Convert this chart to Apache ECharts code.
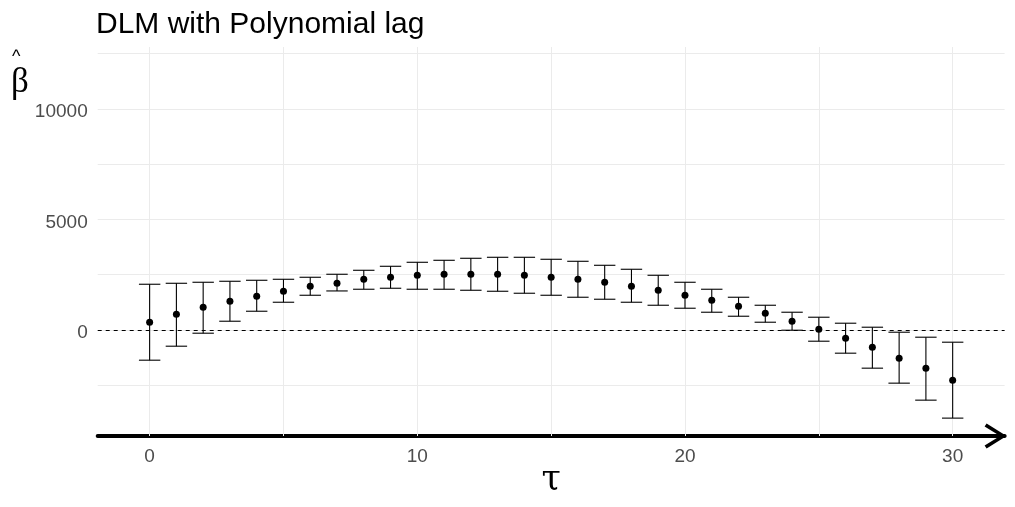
<!DOCTYPE html>
<html>
<head>
<meta charset="utf-8">
<script src="https://cdn.jsdelivr.net/npm/echarts@6/dist/echarts.min.js"></script>
<style>html,body{margin:0;padding:0;background:#fff}#c{width:1015px;height:507px}</style>
</head>
<body>
<div id="c"></div>
<script>
const lags = [0,1,2,3,4,5,6,7,8,9,10,11,12,13,14,15,16,17,18,19,20,21,22,23,24,25,26,27,28,29,30];
const estimate = [348,710,1026,1297,1523,1749,1975,2111,2291,2382,2472,2518,2518,2518,2472,2382,2291,2156,1975,1794,1568,1342,1071,755,393,32,-375,-782,-1279,-1731,-2274];
const upper = [2066,2110,2156,2201,2246,2291,2382,2518,2698,2879,3060,3150,3241,3286,3286,3196,3105,2924,2744,2472,2156,1840,1478,1116,800,574,303,122,-104,-330,-556];
const lower = [-1370,-737,-149,393,845,1252,1568,1763,1840,1885,1840,1840,1794,1749,1659,1568,1478,1388,1252,1116,981,800,619,348,-14,-511,-1053,-1731,-2409,-3178,-3991];
const xTicks = [0,10,20,30];
const xMinor = [5,15,25];
const yTicks = [0,5000,10000];
const yMinor = [-2500,2500,7500,12500];
const titleText = 'DLM with Polynomial lag';
const xName = 'τ';
const yNameHat = '^';
const yNameSym = 'β';

const chart = echarts.init(document.getElementById('c'), null, {renderer:'canvas'});
const barData = lags.map((x,i)=>[x, lower[i], upper[i]]);
const ptData = lags.map((x,i)=>[x, estimate[i]]);
const gridLines = [];
xTicks.concat(xMinor).forEach(v=>gridLines.push({xAxis:v}));
yTicks.concat(yMinor).forEach(v=>gridLines.push({yAxis:v}));

const option = {
  animation:false,
  backgroundColor:'#ffffff',
  textStyle:{fontFamily:'Liberation Sans, Arial, sans-serif'},
  title:[
    {text:titleText, left:96, top:10, padding:0,
     textStyle:{fontSize:30, fontWeight:'normal', color:'#000', fontFamily:'Liberation Sans, Arial, sans-serif'}},
    {text:yNameHat, left:12, top:48, padding:0,
     textStyle:{fontSize:18, fontWeight:'normal', color:'#000', fontFamily:'Liberation Sans, Arial, sans-serif'}},
    {text:yNameSym, left:11, top:65, padding:0,
     textStyle:{fontSize:35, fontWeight:'normal', color:'#000', fontFamily:'Liberation Serif, Times New Roman, serif'}}
  ],
  grid:{left:97.7, right:10.4, top:47, bottom:71, containLabel:false, outerBoundsMode:'none'},
  xAxis:{
    type:'value', min:-1.94, max:31.94,
    name:xName, nameLocation:'middle', nameGap:27, nameMoveOverlap:false,
    nameTextStyle:{fontSize:35, color:'#000', fontFamily:'DejaVu Serif, serif'},
    axisLine:{show:true, onZero:false, lineStyle:{color:'#000', width:4},
      symbol:['none','path://M12.5,0 L25,20 L22,22 L12.5,6.5 L3,22 L0,20 Z'],
      symbolSize:[25,22], symbolOffset:[0,-9]},
    axisTick:{show:false},
    splitLine:{show:false},
    axisLabel:{customValues:xTicks, fontSize:19, color:'#4d4d4d', margin:11,
      formatter:function(v){return String(v);}}
  },
  yAxis:{
    type:'value', min:-4800, max:12800,
    axisLine:{show:false}, axisTick:{show:false}, splitLine:{show:false},
    axisLabel:{customValues:yTicks, margin:10,
      formatter:function(v){return '{v|' + String(v) + '}';},
      rich:{v:{fontSize:19, color:'#4d4d4d', padding:[6,0,0,0], fontFamily:'Liberation Sans, Arial, sans-serif'}}}
  },
  series:[
    {type:'line', data:[], silent:true, z:1,
     markLine:{z:1, silent:true, symbol:['none','none'], label:{show:false},
       lineStyle:{color:'#ebebeb', type:'solid', width:1},
       data:gridLines}},
    {type:'custom', z:3, data:barData, silent:true,
     renderItem:function(params, api){
       const x = api.value(0), lo = api.value(1), hi = api.value(2);
       const pHi = api.coord([x, hi]);
       const pLo = api.coord([x, lo]);
       const half = api.size([0.8,0])[0]/2;
       const st = {stroke:'#000', lineWidth:1.1, fill:null};
       return {type:'group', children:[
         {type:'line', shape:{x1:pHi[0], y1:pHi[1], x2:pLo[0], y2:pLo[1]}, style:st},
         {type:'line', shape:{x1:pHi[0]-half, y1:pHi[1], x2:pHi[0]+half, y2:pHi[1]}, style:st},
         {type:'line', shape:{x1:pLo[0]-half, y1:pLo[1], x2:pLo[0]+half, y2:pLo[1]}, style:st}
       ]};
     }},
    {type:'line', data:[], silent:true, z:4,
     markLine:{z:4, silent:true, symbol:['none','none'], label:{show:false},
       lineStyle:{color:'#000', type:[4,4], width:1},
       data:[{yAxis:0}]}},
    {type:'scatter', z:5, data:ptData, symbol:'circle', symbolSize:7, silent:true,
     itemStyle:{color:'#000', opacity:1}}
  ]
};
chart.setOption(option);
</script>
</body>
</html>
